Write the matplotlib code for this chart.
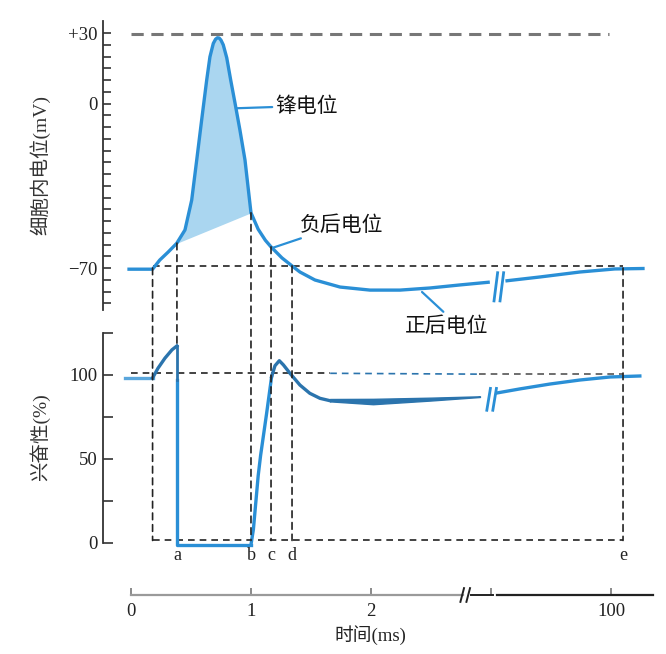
import matplotlib
matplotlib.use('Agg')
import matplotlib.pyplot as plt
from matplotlib.patches import ConnectionPatch
import numpy as np

plt.rcParams['font.family'] = ['Liberation Serif', 'Noto Sans CJK SC']
CJK = ['Noto Sans CJK SC', 'DejaVu Sans']

# 横轴单位: 0~2.8 为 ms, 断轴后 4.0 处标为 100 ms
# 膜电位 (mV), 断轴前
vm_t = [-0.03, 0.18, 0.24, 0.31, 0.381, 0.45, 0.506, 0.548, 0.589, 0.631,
        0.658, 0.686, 0.705, 0.72, 0.735, 0.75, 0.769, 0.798, 0.831, 0.867,
        0.908, 0.95, 0.97, 1.0, 1.06, 1.12, 1.167, 1.258, 1.342, 1.408,
        1.533, 1.742, 1.992, 2.242, 2.492, 2.742, 2.99]
vm_v = [-70.5, -70.5, -66.6, -63.2, -59.5, -53.8, -41.1, -24.0, -7.0, 10.0,
        19.9, 25.6, 27.4, 28.0, 27.9, 27.0, 25.0, 19.5, 10.0, 0.2,
        -11.3, -24.0, -33.0, -46.5, -53.5, -58.2, -61.0, -65.7, -69.1, -71.7,
        -75.1, -78.1, -79.4, -79.4, -78.5, -77.2, -76.0]
# 膜电位, 断轴后
vm2_t = [3.12, 3.41, 3.74, 4.03, 4.28]
vm2_v = [-75.5, -73.8, -71.7, -70.4, -70.2]

# 兴奋性 (%)
ex_rest_t = [-0.05, 0.18]
ex_rest_v = [98.2, 98.2]
ex_super_t = [0.18, 0.225, 0.283, 0.342, 0.383]
ex_super_v = [98.2, 104, 110, 115, 117.3]
ex_abs_t = [0.383, 0.383, 1.0]
ex_abs_v = [97.0, -1.0, -1.0]
ex_rel_t = [1.0, 1.02, 1.04, 1.06, 1.08, 1.10, 1.13, 1.172, 1.20, 1.236,
            1.27, 1.325, 1.408, 1.49, 1.575, 1.658]
ex_rel_v = [-1.0, 8.0, 24.0, 40.0, 52.0, 62.0, 77.0, 99.0, 105.5, 108.5,
            106.0, 101.0, 94.0, 89.1, 86.1, 84.7]
sub_t = [1.658, 2.017, 2.5, 2.908]
sub_hi = [85.7, 85.8, 86.5, 87.3]
sub_lo = [84.3, 82.6, 84.8, 86.9]
ex2_t = [3.05, 3.24, 3.49, 3.74, 3.99, 4.24]
ex2_v = [89.3, 91.7, 94.6, 97.0, 98.8, 99.4]

# 各时刻 a~e 及阈点
mark_names = ['', 'a', 'b', 'c', 'd', 'e']
mark_t = [0.18, 0.383, 1.0, 1.167, 1.342, 4.1]
mark_v = [-70.0, -59.4, -46.5, -61.0, -69.1, -70.0]
mark_e = [1.5, 117.3, 1.5, 1.5, 1.5, 1.5]

# 时间轴
time_ticks = [0, 1, 2, 4.0]
time_labels = ['0', '1', '2', '100']

blue = '#2a8fd6'
dblue = '#2b74ad'
fillc = '#aad6f0'

W, H = 666, 654
fig = plt.figure(figsize=(W / 100, H / 100), dpi=100)
xl = (-0.233, 4.408)
left, width = 103 / W, 557 / W

ax1 = fig.add_axes([left, 1 - 315 / H, width, 296 / H])
ax2 = fig.add_axes([left, 1 - 549.7 / H, width, 218.4 / H])
ax3 = fig.add_axes([left, 1 - 595 / H, width, 0.03])
for ax in (ax1, ax2, ax3):
    ax.set_xlim(*xl)
    ax.patch.set_alpha(0)
    for s in ['top', 'right', 'bottom']:
        ax.spines[s].set_visible(False)
    ax.set_xticks([])
ax3.spines['left'].set_visible(False)

# ---- 膜电位 ----
ax1.set_ylim(-90, 36)
ax1.spines['left'].set_bounds(-88, 35)
ax1.spines['left'].set_color('#333333')
ax1.spines['left'].set_linewidth(1.3)
ax1.set_yticks([-70, 0, 30])
ax1.set_yticklabels(['\u221270', '0', '+30'])
ax1.set_yticks(np.arange(-85, 35, 5), minor=True)
ax1.tick_params(axis='y', which='both', direction='in', length=6, width=1.2,
                colors='#333333', labelsize=13.5, pad=4)
ax1.tick_params(axis='y', which='major', labelcolor='#222222')

ax1.plot([0, 3.98], [29.5, 29.5], ls=(0, (4, 2.5)), color='#777777', lw=2.2)
ax1.plot([mark_t[0], mark_t[-1]], [-69.3, -69.3], ls=(0, (4, 3)), color='#222222', lw=1.2)

t_arr = np.array(vm_t)
v_arr = np.array(vm_v)
sel = (t_arr >= mark_t[1] - 0.01) & (t_arr <= mark_t[2])
base = np.interp(t_arr[sel], [t_arr[sel][0], mark_t[2]], [v_arr[sel][0], mark_v[2]])
ax1.fill_between(t_arr[sel], v_arr[sel], base, color=fillc, lw=0)
ax1.plot(vm_t, vm_v, color=blue, lw=2.4, solid_capstyle='butt', solid_joinstyle='round')
ax1.plot(vm2_t, vm2_v, color=blue, lw=2.4, solid_capstyle='butt')
for bx in (3.04, 3.09):
    ax1.plot([bx - 0.015, bx + 0.015], [-84, -72], color=blue, lw=2.0)

ax1.annotate('锋电位', xy=(0.876, -2.0), xytext=(1.2, -1.0), fontsize=15,
             family=CJK, va='center', ha='left', color='#111111',
             arrowprops=dict(arrowstyle='-', color=blue, lw=1.6, shrinkA=0, shrinkB=0))
ax1.annotate('负后电位', xy=(1.175, -61.5), xytext=(1.41, -51.5), fontsize=15,
             family=CJK, va='center', ha='left', color='#111111',
             arrowprops=dict(arrowstyle='-', color=blue, lw=1.6, shrinkA=0, shrinkB=0))
ax1.annotate('正后电位', xy=(2.425, -80.2), xytext=(2.28, -94.5), fontsize=15,
             family=CJK, va='center', ha='left', color='#111111',
             arrowprops=dict(arrowstyle='-', color=blue, lw=1.6, shrinkA=0,
                             shrinkB=0, relpos=(0.5, 1.0)))

# ---- 兴奋性 ----
ax2.set_ylim(-4, 126)
ax2.spines['left'].set_bounds(0, 125)
ax2.spines['left'].set_color('#333333')
ax2.spines['left'].set_linewidth(1.3)
ax2.set_yticks([0, 50, 100])
ax2.set_yticks([25, 75, 125], minor=True)
ax2.tick_params(axis='y', which='both', direction='in', length=7, width=1.2,
                colors='#333333', labelsize=13.5, pad=4)
ax2.tick_params(axis='y', which='major', labelcolor='#222222')

ax2.plot([0, 1.66], [101, 101], ls=(0, (4, 3)), color='#222222', lw=1.2)
ax2.plot([1.66, 2.9], [101, 100.5], ls=(0, (4, 3)), color=dblue, lw=1.2)
ax2.plot([2.9, mark_t[-1]], [100.5, 100.5], ls=(0, (4, 3)), color='#555555', lw=1.2)
ax2.plot([mark_t[0], mark_t[-1]], [1.5, 1.5], ls=(0, (4, 3)), color='#222222', lw=1.2)

ax2.plot(ex_rest_t, ex_rest_v, color='#5aa6dc', lw=2.4)
ax2.plot(ex_super_t, ex_super_v, color=dblue, lw=2.4)
ax2.plot(ex_abs_t, ex_abs_v, color=blue, lw=2.4)
ax2.plot([0.383, 0.383], [117.3, 97], color=dblue, lw=2.0)
ax2.plot(ex_rel_t[:8], ex_rel_v[:8], color=blue, lw=2.4, solid_joinstyle='round')
ax2.plot(ex_rel_t[7:], ex_rel_v[7:], color=dblue, lw=2.4, solid_joinstyle='round')
ax2.fill_between(sub_t, sub_lo, sub_hi, color=dblue, lw=1.0)
ax2.plot(ex2_t, ex2_v, color=blue, lw=2.4)
for bx in (2.98, 3.03):
    ax2.plot([bx - 0.015, bx + 0.015], [79, 92], color=blue, lw=2.0)

for name, t, v, e in zip(mark_names, mark_t, mark_v, mark_e):
    cp = ConnectionPatch(xyA=(t, v), coordsA=ax1.transData,
                         xyB=(t, e), coordsB=ax2.transData,
                         ls=(0, (4, 3)), color='#222222', lw=1.2)
    fig.add_artist(cp)
    if name:
        ax2.text(t, -2.5, name, ha='center', va='top', fontsize=13,
                 color='#222222')

# ---- 时间轴 ----
ax3.set_ylim(0, 1)
ax3.plot([0, 2.77], [0, 0], color='#9a9a9a', lw=1.6, clip_on=False)
ax3.plot([2.83, 3.02], [0, 0], color='#222222', lw=1.4, clip_on=False)
ax3.plot([3.05, 4.35], [0, 0], color='#222222', lw=1.6, clip_on=False)
for bx in (2.76, 2.81):
    ax3.plot([bx - 0.015, bx + 0.015], [-0.35, 0.35], color='#222222', lw=1.4,
             clip_on=False)
ax3.set_xticks(time_ticks)
ax3.set_xticklabels(time_labels)
ax3.set_xticks([3.0], minor=True)
ax3.tick_params(axis='x', which='both', direction='in', length=5, width=1.2,
                colors='#777777', labelsize=13.5, pad=6)
ax3.tick_params(axis='x', which='major', labelcolor='#222222')
ax3.set_yticks([])

fig.text(370 / W, 1 - 635 / H, '时间(ms)', ha='center', va='center', fontsize=13.5,
         color='#222222')
fig.text(40 / W, 1 - 165 / H, '细胞内电位(mV)', rotation=90, ha='center',
         va='center', fontsize=14, color='#333333')
fig.text(40 / W, 1 - 437 / H, '兴奋性(%)', rotation=90, ha='center',
         va='center', fontsize=14, color='#333333')

fig.savefig('out.png', dpi=100, facecolor='white')
